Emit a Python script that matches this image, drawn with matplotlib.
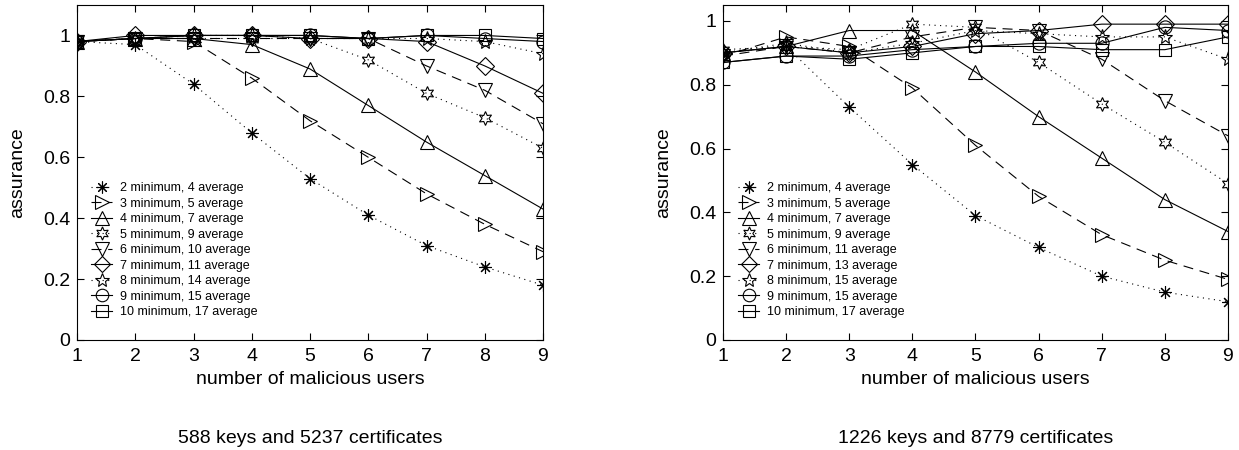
import matplotlib
matplotlib.use("Agg")
import matplotlib.pyplot as plt
from matplotlib.ticker import FuncFormatter

plt.rcParams['font.family'] = ['Liberation Sans', 'DejaVu Sans']

x_users = [1, 2, 3, 4, 5, 6, 7, 8, 9]

labels_left = ["2 minimum, 4 average", "3 minimum, 5 average", "4 minimum, 7 average",
               "5 minimum, 9 average", "6 minimum, 10 average", "7 minimum, 11 average",
               "8 minimum, 14 average", "9 minimum, 15 average", "10 minimum, 17 average"]
labels_right = ["2 minimum, 4 average", "3 minimum, 5 average", "4 minimum, 7 average",
                "5 minimum, 9 average", "6 minimum, 11 average", "7 minimum, 13 average",
                "8 minimum, 15 average", "9 minimum, 15 average", "10 minimum, 17 average"]

left_s1 = [0.98, 0.97, 0.84, 0.68, 0.53, 0.41, 0.31, 0.24, 0.18]
left_s2 = [0.98, 0.99, 0.98, 0.86, 0.72, 0.60, 0.48, 0.38, 0.29]
left_s3 = [0.98, 0.99, 0.99, 0.97, 0.89, 0.77, 0.65, 0.54, 0.43]
left_s4 = [0.98, 0.99, 0.99, 0.99, 0.99, 0.92, 0.81, 0.73, 0.63]
left_s5 = [0.98, 0.99, 0.99, 0.99, 0.99, 0.99, 0.90, 0.82, 0.71]
left_s6 = [0.98, 1.00, 1.00, 1.00, 0.99, 0.99, 0.98, 0.90, 0.81]
left_s7 = [0.98, 0.99, 1.00, 1.00, 0.99, 0.99, 0.99, 0.98, 0.94]
left_s8 = [0.98, 0.99, 1.00, 1.00, 1.00, 0.99, 1.00, 0.99, 0.98]
left_s9 = [0.98, 0.99, 1.00, 1.00, 1.00, 0.99, 1.00, 1.00, 0.99]

right_s1 = [0.90, 0.92, 0.73, 0.55, 0.39, 0.29, 0.20, 0.15, 0.12]
right_s2 = [0.89, 0.95, 0.92, 0.79, 0.61, 0.45, 0.33, 0.25, 0.19]
right_s3 = [0.90, 0.92, 0.97, 0.97, 0.84, 0.70, 0.57, 0.44, 0.34]
right_s4 = [0.91, 0.92, 0.91, 0.99, 0.98, 0.87, 0.74, 0.62, 0.49]
right_s5 = [0.89, 0.92, 0.90, 0.95, 0.98, 0.97, 0.88, 0.75, 0.64]
right_s6 = [0.90, 0.92, 0.90, 0.92, 0.96, 0.97, 0.99, 0.99, 0.99]
right_s7 = [0.90, 0.93, 0.90, 0.93, 0.97, 0.96, 0.95, 0.95, 0.88]
right_s8 = [0.87, 0.89, 0.89, 0.91, 0.92, 0.93, 0.93, 0.98, 0.97]
right_s9 = [0.87, 0.89, 0.88, 0.90, 0.92, 0.92, 0.91, 0.91, 0.95]

left_series = [left_s1, left_s2, left_s3, left_s4, left_s5, left_s6, left_s7, left_s8, left_s9]
right_series = [right_s1, right_s2, right_s3, right_s4, right_s5, right_s6, right_s7, right_s8, right_s9]

dotted = (0, (1, 4))
dashed = (0, (9, 6))
styles = [((8, 2, 0), dotted, 9),
          ('>', dashed, 10.5),
          ('^', '-', 10.5),
          ((6, 1, 0), dotted, 10),
          ('v', dashed, 10.5),
          ('D', '-', 9),
          ('*', dotted, 11),
          ('o', '-', 9.5),
          ('s', '-', 9)]

fig = plt.figure(figsize=(12.39, 4.5), dpi=100)
W, H = 1239.0, 450.0
ax_l = fig.add_axes([77 / W, 1 - 340 / H, 466 / W, 335 / H])
ax_r = fig.add_axes([723 / W, 1 - 340 / H, 505 / W, 335 / H])


def fmt(v, pos):
    return '%g' % round(v, 2)


def draw(ax, series, labels, ymax, title):
    for s, lab, (mk, ls, ms) in zip(series, labels, styles):
        ax.plot(x_users, s, color='black', linestyle=ls, linewidth=0.8,
                marker=mk, markersize=ms, markerfacecolor='none',
                markeredgecolor='black', markeredgewidth=0.8, label=lab)
    ax.set_xlim(1, 9)
    ax.set_ylim(0, ymax)
    ax.set_xticks(x_users)
    ax.set_yticks([0, 0.2, 0.4, 0.6, 0.8, 1.0])
    ax.yaxis.set_major_formatter(FuncFormatter(fmt))
    ax.tick_params(direction='in', top=True, right=True, length=5, width=0.8,
                   labelsize=14)
    ax.tick_params(axis='x', pad=6)
    ax.tick_params(axis='y', pad=5)
    for sp in ax.spines.values():
        sp.set_linewidth(0.8)
    ax.set_xlabel('number of malicious users', fontsize=14, labelpad=4)
    ax.set_ylabel('assurance', fontsize=14, labelpad=12)
    ax.text(0.5, -0.295, title, transform=ax.transAxes, ha='center', va='center',
            fontsize=14)
    ax.legend(loc='upper left', bbox_to_anchor=(0.025, 0.478), frameon=False,
              fontsize=9, handlelength=1.7, handletextpad=0.6,
              labelspacing=0.28, borderpad=0.2, borderaxespad=0.0,
              markerscale=0.95)


draw(ax_l, left_series, labels_left, 1.1, '588 keys and 5237 certificates')
draw(ax_r, right_series, labels_right, 1.05, '1226 keys and 8779 certificates')

fig.savefig('out.png', dpi=100)
